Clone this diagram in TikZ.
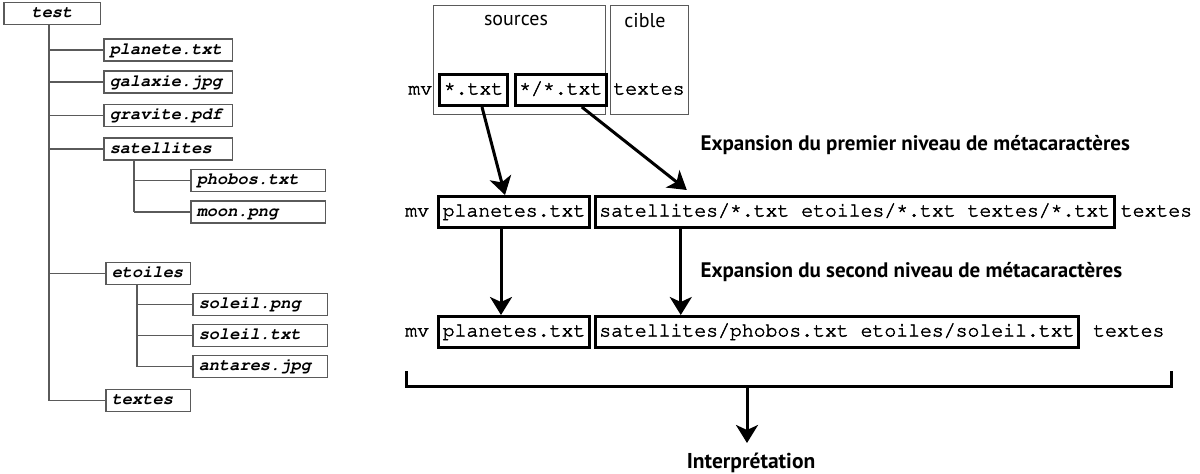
\documentclass[tikz,border=0pt]{standalone}
\usepackage[T1]{fontenc}
\usepackage{fontspec}
\setmainfont{PT Sans}
\usetikzlibrary{calc}
\usetikzlibrary{positioning}
\usetikzlibrary{arrows.meta}
\definecolor{tree-gray}{RGB}{90, 90, 90}
\newcommand{\courierfont}{\fontencoding{T1}\fontfamily{pcr}\selectfont}
\newcommand{\st}{\raisebox{3pt}{*}}
\newcommand{\heavyon}{\special{pdf:literal direct 2 Tr 0.45 w}}
\newcommand{\heavyoff}{\special{pdf:literal direct 0 Tr}}

\tikzset{
  filebox/.style={draw=tree-gray, line width=1.5pt, inner xsep=6pt, inner ysep=0pt,
    minimum height=22pt, anchor=west, align=left,
    font=\courierfont\bfseries\slshape\fontsize{17}{17}\selectfont, text height=11pt, text depth=3pt},
  branch/.style={draw=tree-gray, line width=1.5pt},
  cmd/.style={font=\courierfont\fontsize{19.8}{20}\selectfont, text height=13pt, text depth=4pt,
    inner xsep=4pt, inner ysep=0pt, execute at begin node=\heavyon, execute at end node=\heavyoff},
  cmdbox/.style={cmd, draw=black, line width=3pt, minimum height=31pt},
  frame/.style={draw=tree-gray, line width=1pt, inner sep=0pt},
  expand/.style={font=\bfseries\fontsize{21}{22}\selectfont, anchor=west},
  bigarrow/.style={line width=3pt, -{Stealth[length=18pt, width=22pt, inset=5pt]}},
}

\begin{document}
\begin{tikzpicture}[x=1pt, y=-1pt]
\useasboundingbox (0,0) rectangle (1200,474);

% arborescence
\node[filebox, anchor=center, minimum width=96.5pt] (test) at (52,13.5) {test};
\foreach \name/\x/\y/\w/\txt [evaluate=\w as \tw using \w-13.5] in {
    planete/103/50/130/planete.txt, galaxie/103/82/130/galaxie.jpg,
    gravite/103/115.5/130/gravite.pdf, satellites/103/149/130/satellites,
    phobos/190/180.5/136/phobos.txt, moon/190/212/136/moon.png,
    etoiles/105/273.5/86/etoiles, soleilpng/192/304.5/136/soleil.png,
    soleiltxt/192/335.5/136/soleil.txt, antares/192/366.5/136/antares.jpg,
    textes/105/400.5/86/textes}
  \node[filebox, text width=\tw pt] (\name) at (\x,\y) {\txt};

\coordinate (trunk) at (49,0);
\draw[branch] (trunk |- test.south) -- (trunk |- textes.west);
\foreach \n in {planete,galaxie,gravite,satellites,etoiles,textes}
  \draw[branch] (trunk |- \n.west) -- (\n.west);

\coordinate (sattrunk) at ($(satellites.south west)+(31,0)$);
\draw[branch] (sattrunk) -- (sattrunk |- moon.west);
\foreach \n in {phobos,moon}
  \draw[branch] (sattrunk |- \n.west) -- (\n.west);

\coordinate (etotrunk) at ($(etoiles.south west)+(32,0)$);
\draw[branch] (etotrunk) -- (etotrunk |- antares.west);
\foreach \n in {soleilpng,soleiltxt,antares}
  \draw[branch] (etotrunk |- \n.west) -- (\n.west);

% commande mv
\node[frame, minimum width=172pt, minimum height=109pt, anchor=north west] (sources) at (432.5,4.5) {};
\node[frame, minimum width=78pt, minimum height=109pt, anchor=north west] (cible) at (609.5,4.5) {};
\node[font=\fontsize{20}{21}\selectfont] (srclabel) at ($(sources.north)+(-3,16)$) {sources};
\node[font=\fontsize{20}{21}\selectfont] (ciblabel) at ($(cible.north)+(-4,16)$) {cible};

\node[cmdbox] (star) at (473.5,90) {\st.txt};
\node[cmdbox, right=5pt of star] (starstar) {\st/\st.txt};
\node[cmd, left=2pt of star] (mv1) {mv};
\node[cmd] (dest1) at (cible.center |- star) {textes};

\node[cmdbox] (planetes1) at (514,212) {planetes.txt};
\node[cmdbox, right=3pt of planetes1] (big1) {satellites/\st.txt etoiles/\st.txt textes/\st.txt};
\node[cmd, left=4pt of planetes1] (mv2) {mv};
\node[cmd, right=1pt of big1] (dest2) {textes};

\node[cmdbox] (planetes2) at (514,332) {planetes.txt};
\node[cmdbox, right=3pt of planetes2] (big2) {satellites/phobos.txt etoiles/soleil.txt};
\node[cmd, left=4pt of planetes2] (mv3) {mv};
\node[cmd, right=9pt of big2] (dest3) {textes};

\node[expand] (exp1) at (697,145) {Expansion du premier niveau de métacaractères};
\node[expand] (exp2) at (697,272) {Expansion du second niveau de métacaractères};

\draw[bigarrow] ([xshift=8.5pt]star.south) -- ([xshift=-9pt]planetes1.north);
\draw[bigarrow] ([xshift=21pt]starstar.south) -- ($(big1.north west)+(93,-5)$);
\draw[bigarrow] ([xshift=-13pt]planetes1.south) -- ([xshift=-13pt]planetes2.north);
\draw[bigarrow] ($(big1.south west)+(87,0)$) -- ($(big2.north west)+(87,0)$);

% accolade
\coordinate (bl) at (406,371);
\coordinate (br) at (1171,371);
\draw[line width=3pt] (bl) -- ++(0,15) -| (br);
\coordinate (bmid) at (747,386);
\coordinate (interptop) at (747,443);
\draw[bigarrow] (bmid) -- (interptop);
\node[expand, anchor=center, font=\bfseries\fontsize{21.5}{22}\selectfont] (interp) at (751,463) {Interprétation};
\end{tikzpicture}
\end{document}
